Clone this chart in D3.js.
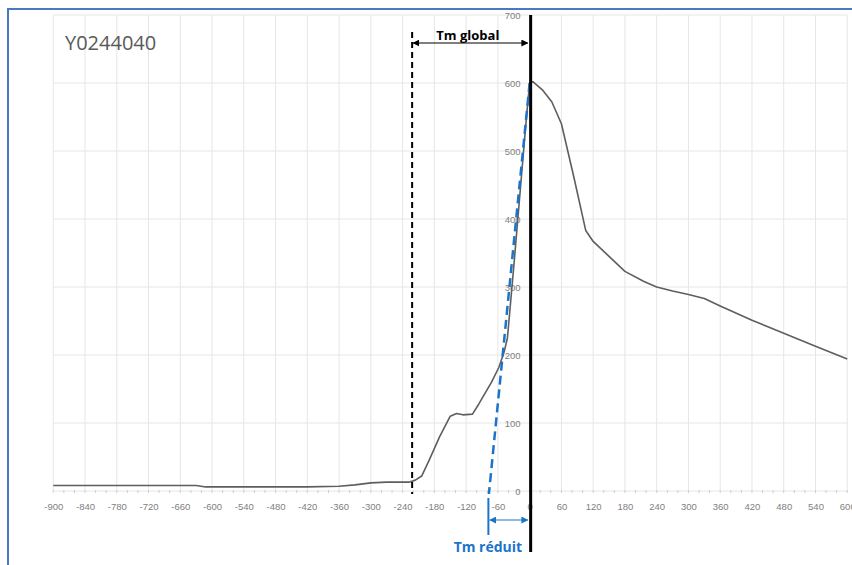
<!DOCTYPE html>
<html>
<head>
<meta charset="utf-8">
<style>
  body { margin: 0; background: #fff; }
  svg { display: block; font-family: "Open Sans", "Liberation Sans", sans-serif; }
  .grid line { stroke: #e6e6e6; stroke-width: 1; }
  .xlab text, .ylab text { font-size: 9.5px; fill: #808080; }
</style>
</head>
<body>
<svg width="852" height="565"></svg>
<script src="https://d3js.org/d3.v7.min.js"></script>
<script>
// data (time in s, temperature)
const timeVals = [-900, -630, -612, -420, -360, -330, -300, -270, -228, -216, -204, -190, -170, -150, -138, -126, -108,
  -96, -72, -58, -48, -42, -30, -18, -6, 0, 6, 24, 42, 60, 84, 106, 120, 150, 180, 216, 240, 270, 300, 330, 360, 420, 480, 540, 600];
const tempVals = [8, 8, 6, 6, 7, 9, 12, 13, 13, 16, 22, 45, 80, 110, 114, 112, 113,
  128, 160, 182, 205, 225, 330, 440, 550, 600, 602, 590, 572, 540, 460, 383, 367, 345, 323, 308, 300, 294, 289, 283, 272, 251, 232, 213, 194];

const xTickVals = [-900, -840, -780, -720, -660, -600, -540, -480, -420, -360, -300, -240, -180, -120, -60,
  0, 60, 120, 180, 240, 300, 360, 420, 480, 540, 600];
const yTickVals = [0, 100, 200, 300, 400, 500, 600, 700];

const title = "Y0244040";
const tmGlobal = -222;    // dashed black line
const tmReduit = -77;     // tangent intersection
const tangentTop = 600;

let svg = d3.select("svg");

let x = d3.scaleLinear().domain([-900, 600]).range([53.25, 847.25]);
let y = d3.scaleLinear().domain([0, 700]).range([491, 15]);

// frame
svg.append("rect")
  .attr("x", 8).attr("y", 9).attr("width", 900).attr("height", 620)
  .style("fill", "none").style("stroke", "#4a78c2").style("stroke-width", 2);

// gridlines
let grid = svg.append("g").attr("class", "grid");
grid.selectAll(".v").data(xTickVals).join("line")
  .attr("x1", d => x(d)).attr("x2", d => x(d))
  .attr("y1", y(700)).attr("y2", y(0));
grid.selectAll(".h").data(yTickVals).join("line")
  .attr("x1", x(-900)).attr("x2", x(600))
  .attr("y1", d => y(d)).attr("y2", d => y(d));

// minor ticks on x axis
svg.append("g").selectAll("line").data(d3.range(-900, 601, 20)).join("line")
  .attr("x1", d => x(d)).attr("x2", d => x(d))
  .attr("y1", y(0) - 1).attr("y2", y(0) + 2)
  .style("stroke", "#cfcfcf").style("stroke-width", 1);

// x labels (plain hyphen like the original)
let xAxis = d3.axisBottom(x).tickValues(xTickVals).tickSize(0).tickPadding(12)
  .tickFormat(d => String(d));
let xg = svg.append("g").attr("class", "xlab")
  .attr("transform", `translate(0,${y(0)})`).call(xAxis);
xg.select(".domain").remove();
xg.selectAll("text").attr("font-family", null).attr("font-size", null);

// y labels, crossing at x = 0
let yAxis = d3.axisLeft(y).tickValues(yTickVals).tickSize(0).tickPadding(9);
let yg = svg.append("g").attr("class", "ylab")
  .attr("transform", `translate(${x(0)},0)`).call(yAxis);
yg.select(".domain").remove();
yg.selectAll("text").attr("font-family", null).attr("font-size", null);

// data line
let pts = timeVals.map((t, i) => [t, tempVals[i]]);
let line = d3.line().x(d => x(d[0])).y(d => y(d[1]));
svg.append("path")
  .attr("d", line(pts))
  .style("fill", "none").style("stroke", "#5e5e5e").style("stroke-width", 1.6)
  .style("stroke-linejoin", "round");

// arrow markers
let defs = svg.append("defs");
[["arrBlack", "#000"], ["arrBlue", "#1b74c9"]].forEach(([id, c]) => {
  defs.append("marker").attr("id", id)
    .attr("viewBox", "0 0 10 10").attr("refX", 9).attr("refY", 5)
    .attr("markerWidth", 7).attr("markerHeight", 7).attr("markerUnits", "userSpaceOnUse")
    .attr("orient", "auto-start-reverse")
    .append("path").attr("d", "M0,0 L10,5 L0,10 Z").style("fill", c);
});

// tangent (blue dashed)
svg.append("line")
  .attr("x1", x(0)).attr("y1", y(tangentTop))
  .attr("x2", x(tmReduit)).attr("y2", y(0) + 3)
  .style("stroke", "#1b74c9").style("stroke-width", 2.5).style("stroke-dasharray", "9,5");
svg.append("line")
  .attr("x1", x(tmReduit) - 0.5).attr("x2", x(tmReduit) - 0.5)
  .attr("y1", y(0) + 7).attr("y2", 535)
  .style("stroke", "#1b74c9").style("stroke-width", 2);
svg.append("line")
  .attr("x1", x(tmReduit) + 1).attr("x2", x(0) - 2)
  .attr("y1", 520).attr("y2", 520)
  .attr("marker-start", "url(#arrBlue)").attr("marker-end", "url(#arrBlue)")
  .style("stroke", "#1b74c9").style("stroke-width", 1);
svg.append("text")
  .attr("x", x(tmReduit) - 1).attr("y", 552)
  .attr("text-anchor", "middle")
  .style("font-size", "14px").style("font-weight", "bold").style("fill", "#1b74c9")
  .text("Tm réduit");

// dashed black Tm global line
svg.append("line")
  .attr("x1", x(tmGlobal)).attr("x2", x(tmGlobal))
  .attr("y1", 32).attr("y2", y(0) + 3)
  .style("stroke", "#000").style("stroke-width", 2).style("stroke-dasharray", "6,4");
svg.append("line")
  .attr("x1", x(tmGlobal) + 1).attr("x2", x(0) - 2)
  .attr("y1", 43).attr("y2", 43)
  .attr("marker-start", "url(#arrBlack)").attr("marker-end", "url(#arrBlack)")
  .style("stroke", "#000").style("stroke-width", 1);
svg.append("text")
  .attr("x", (x(tmGlobal) + x(0)) / 2 - 3).attr("y", 40)
  .attr("text-anchor", "middle")
  .style("font-size", "13px").style("font-weight", "bold").style("fill", "#000")
  .text("Tm global");

// black vertical line at t = 0
svg.append("line")
  .attr("x1", x(0) + 1).attr("x2", x(0) + 1)
  .attr("y1", y(700)).attr("y2", 552)
  .style("stroke", "#000").style("stroke-width", 3);

// title
svg.append("text")
  .attr("x", 65).attr("y", 50)
  .style("font-size", "20px").style("fill", "#595959")
  .text(title);
</script>
</body>
</html>
